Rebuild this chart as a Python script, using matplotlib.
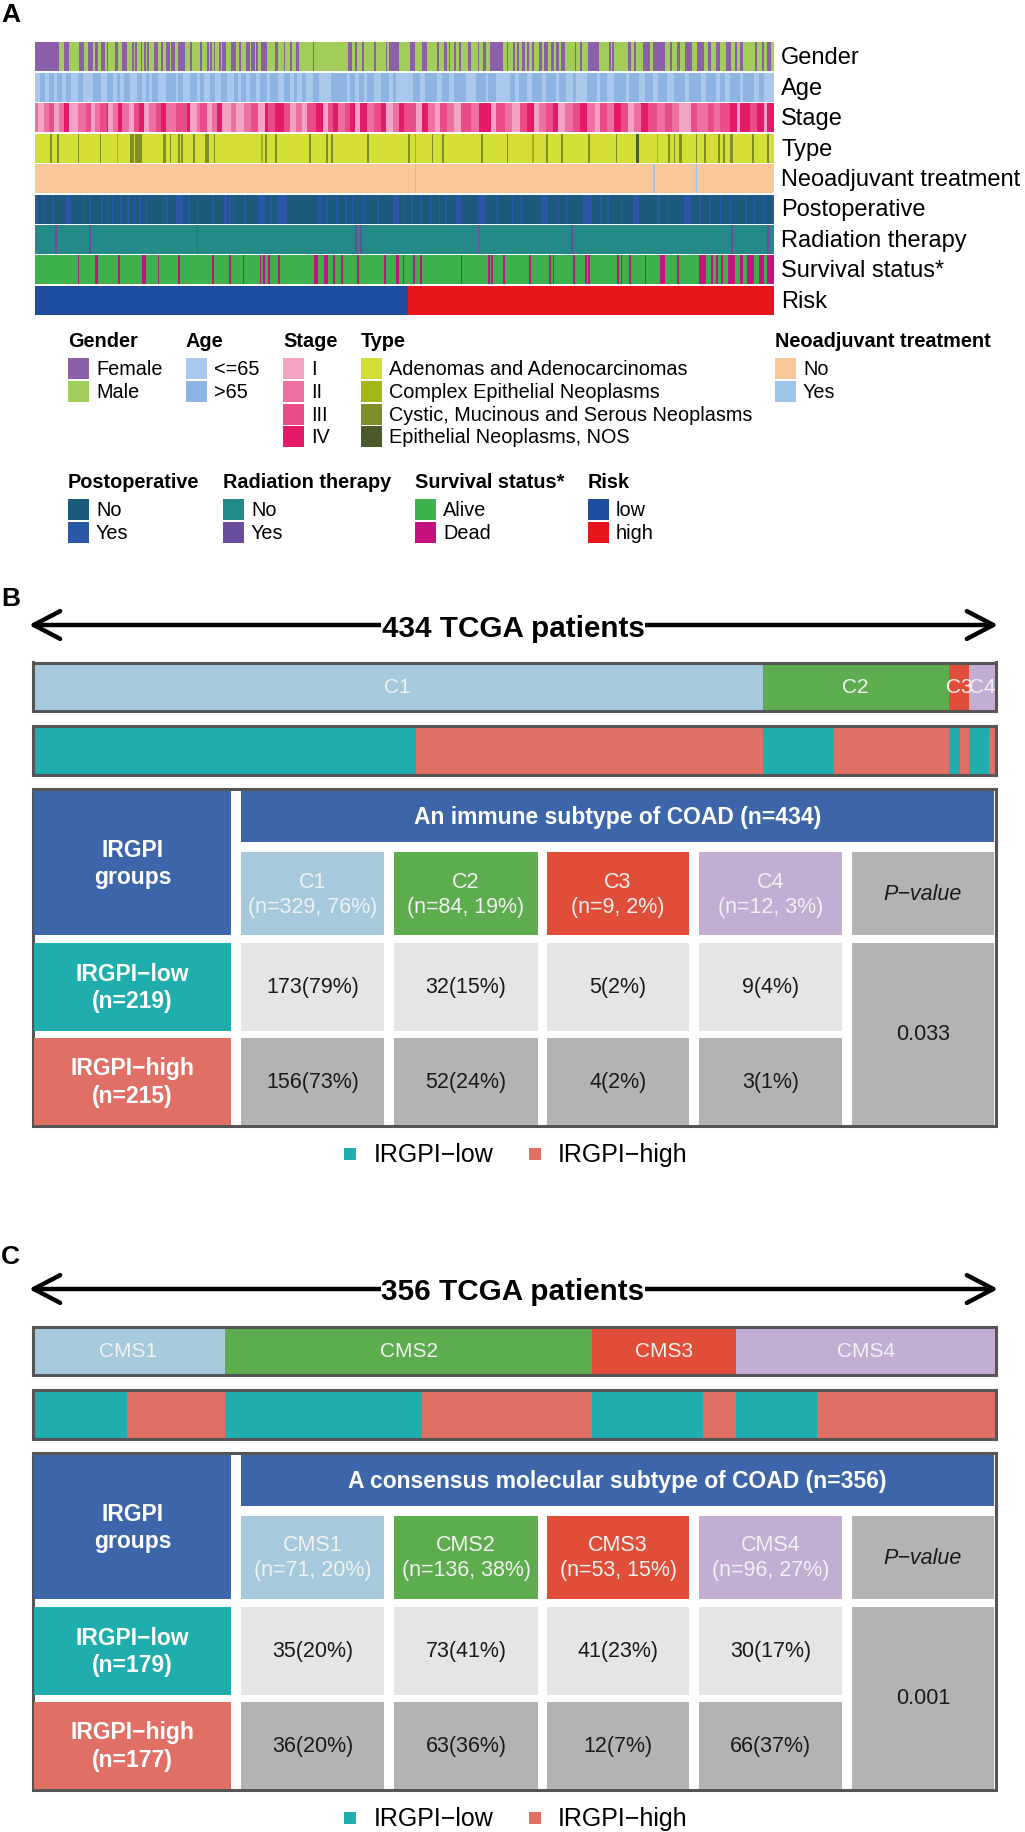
import numpy as np
import matplotlib
matplotlib.use('Agg')
import matplotlib.pyplot as plt
from matplotlib.patches import Rectangle
from matplotlib.colors import to_rgb

plt.rcParams['font.family'] = ['Liberation Sans', 'DejaVu Sans']

# ---------------- data: panel A (434 patients, ordered by risk score) ----------------
N_PAT = 434
n_risk_low, n_risk_high = 219, 215

gender_female = [(0, 14), (17, 3), (26, 3), (31, 3), (35, 2), (39, 2), (42, 1), (47, 2), (51, 3), (57, 1),
                 (59, 1), (62, 1), (64, 1), (66, 1), (70, 2), (74, 1), (77, 2), (80, 2), (84, 4), (91, 1),
                 (97, 1), (101, 1), (103, 1), (105, 1), (108, 1), (110, 2), (115, 3), (120, 1), (124, 2),
                 (127, 2), (130, 1), (133, 3), (141, 2), (146, 1), (150, 1), (153, 2), (163, 1), (184, 2),
                 (188, 1), (192, 1), (199, 1), (206, 1), (208, 6), (220, 3), (227, 3), (236, 1), (240, 2),
                 (243, 1), (246, 1), (249, 1), (254, 2), (260, 1), (263, 2), (267, 8), (277, 1), (281, 1),
                 (283, 1), (286, 2), (289, 1), (292, 1), (296, 2), (299, 2), (303, 2), (306, 2), (309, 2),
                 (317, 1), (320, 1), (325, 6), (337, 1), (339, 1), (348, 2), (352, 1), (357, 4), (363, 7),
                 (373, 1), (377, 2), (382, 4), (389, 4), (395, 2), (400, 2), (406, 3), (411, 1), (414, 2),
                 (423, 1), (427, 1), (430, 2)]

age_le65 = [(0, 3), (6, 2), (11, 2), (16, 2), (21, 4), (28, 6), (39, 3), (46, 2), (50, 2), (56, 4), (63, 2),
            (67, 2), (72, 5), (83, 1), (87, 4), (95, 2), (99, 4), (106, 3), (113, 4), (119, 2), (124, 2),
            (130, 2), (136, 2), (143, 3), (150, 2), (154, 3), (159, 4), (167, 7), (183, 2), (188, 2), (193, 2),
            (199, 4), (208, 2), (212, 8), (220, 2), (226, 3), (236, 3), (243, 3), (253, 6), (265, 1), (271, 8),
            (282, 2), (289, 3), (298, 2), (306, 2), (312, 4), (318, 6), (330, 2), (336, 4), (347, 2), (355, 3),
            (363, 3), (371, 4), (382, 2), (391, 3), (400, 2), (405, 3), (414, 2), (422, 3), (428, 6)]

# stage as consecutive runs (level, length); 0=I, 1=II, 2=III, 3=IV
stage_runs = [(1, 2), (0, 3), (1, 3), (2, 3), (0, 3), (1, 3), (3, 3), (0, 5), (1, 5), (2, 3), (0, 2), (1, 3),
              (2, 4), (3, 1), (0, 3), (1, 3), (3, 2), (1, 4), (0, 3), (2, 3), (3, 3), (0, 3), (1, 4), (2, 3),
              (3, 3), (1, 6), (2, 6), (3, 2), (0, 4), (1, 2), (2, 4), (0, 3), (1, 3), (3, 3), (0, 5), (1, 3),
              (0, 5), (1, 4), (2, 4), (0, 4), (3, 2), (2, 4), (3, 5), (2, 4), (0, 3), (1, 4), (0, 3), (2, 5),
              (3, 4), (0, 3), (2, 3), (3, 3), (1, 4), (2, 3), (3, 3), (0, 3), (3, 4), (1, 4), (2, 4), (3, 3),
              (0, 4), (1, 4), (3, 3), (2, 3),
              (2, 4), (0, 3), (3, 4), (1, 4), (0, 3), (2, 4), (1, 4), (0, 4), (2, 6), (1, 5), (3, 7), (0, 3),
              (2, 5), (1, 4), (0, 5), (2, 4), (3, 4), (0, 3), (1, 4), (2, 4), (3, 3), (0, 4), (1, 5), (2, 4),
              (3, 4), (1, 5), (0, 3), (2, 4), (1, 4), (3, 4), (2, 4), (0, 4), (1, 4), (3, 4), (2, 5), (1, 5),
              (2, 4), (1, 4), (0, 7), (2, 4), (1, 6), (2, 4), (1, 3), (2, 6), (3, 4), (0, 2), (3, 6), (2, 4),
              (3, 4), (0, 2), (3, 4)]

type_complex = [48, 133, 223, 292, 365]
type_cystic = [9, 13, 25, 38, 56, 57, 59, 60, 61, 62, 75, 76, 79, 84, 86, 93, 100, 101, 105, 135, 141, 161,
               171, 174, 195, 219, 233, 239, 262, 277, 300, 309, 325, 341, 372, 375, 378, 379, 388, 393, 401,
               404, 408, 409, 421, 430]
type_nos = [353, 354]

neo_yes = [223, 363, 388]

postop_yes = [(0, 2), (5, 1), (10, 1), (18, 3), (28, 1), (32, 1), (39, 1), (42, 1), (45, 1), (50, 1), (54, 2),
              (58, 1), (61, 1), (65, 1), (75, 1), (77, 1), (83, 4), (90, 1), (95, 1), (104, 1), (111, 2),
              (114, 1), (116, 1), (123, 1), (131, 4), (138, 1), (142, 6), (166, 2), (171, 1), (177, 1),
              (182, 1), (186, 1), (193, 1), (201, 1), (210, 4), (216, 1), (221, 1), (226, 1), (232, 1),
              (237, 1), (241, 1), (247, 3), (260, 5), (271, 1), (280, 1), (285, 1), (297, 4), (307, 1),
              (312, 1), (322, 5), (332, 1), (336, 1), (344, 1), (351, 4), (365, 2), (371, 1), (381, 4),
              (390, 1), (396, 1), (402, 1), (408, 1), (417, 1), (422, 1), (428, 1), (433, 1)]

radiation_yes = [12, 32, 95, 188, 191, 260, 315, 409, 430]

dead = [(25, 1), (35, 2), (49, 1), (63, 2), (72, 1), (84, 1), (104, 1), (114, 1), (122, 1), (132, 1),
        (134, 1), (137, 1), (143, 1), (164, 2), (170, 2), (175, 1), (180, 1), (189, 1), (205, 1), (212, 2),
        (216, 1), (222, 1), (226, 1), (250, 1), (266, 1), (268, 1), (275, 1), (290, 1), (302, 1), (304, 1),
        (316, 1), (323, 1), (325, 1), (342, 1), (344, 1), (349, 1), (358, 1), (367, 3), (377, 1), (390, 4),
        (397, 1), (400, 1), (403, 1), (407, 4), (414, 2), (418, 4), (425, 3), (430, 4)]

# ---------------- data: panels B and C ----------------
imm_types = ['C1', 'C2', 'C3', 'C4']
imm_n = [329, 84, 9, 12]
imm_pct = [76, 19, 2, 3]
imm_low = [173, 32, 5, 9]
imm_low_pct = [79, 15, 2, 4]
imm_high = [156, 52, 4, 3]
imm_high_pct = [73, 24, 2, 1]
imm_groups_n = [219, 215]
imm_p = '0.033'

cms_types = ['CMS1', 'CMS2', 'CMS3', 'CMS4']
cms_n = [71, 136, 53, 96]
cms_pct = [20, 38, 15, 27]
cms_low = [35, 73, 41, 30]
cms_low_pct = [20, 41, 23, 17]
cms_high = [36, 63, 12, 66]
cms_high_pct = [20, 36, 7, 37]
cms_groups_n = [179, 177]
cms_p = '0.001'

# ---------------- colours ----------------
sub_cols = ['#A6CADC', '#5DAD4E', '#E04E39', '#C4ADD3']
TEAL, SALMON = '#20ADAD', '#E07066'
HEAD_BLUE = '#3D66AA'
LGRAY, MGRAY = '#E5E5E5', '#B3B3B3'
EDGE = '#555555'

W, H = 1025, 1833
fig = plt.figure(figsize=(W / 100, H / 100), dpi=100)


def px_axes(x0, y0, x1, y1):
    return fig.add_axes([x0 / W, 1 - y1 / H, (x1 - x0) / W, (y1 - y0) / H])


ax0 = px_axes(0, 0, W, H)
ax0.set_xlim(0, W)
ax0.set_ylim(H, 0)
ax0.axis('off')


def from_runs(base, runs, code, arr=None):
    a = np.full(N_PAT, base) if arr is None else arr
    for s, l in runs:
        a[s:s + l] = code
    return a


def from_cols(base, cols, code, arr=None):
    a = np.full(N_PAT, base) if arr is None else arr
    a[np.array(cols)] = code
    return a


stage_idx = np.repeat([r[0] for r in stage_runs], [r[1] for r in stage_runs])[:N_PAT]
type_idx = from_cols(0, type_complex, 1)
type_idx = from_cols(0, type_cystic, 2, type_idx)
type_idx = from_cols(0, type_nos, 3, type_idx)

rows = [
    ('Gender', ['#A3CD5B', '#8B60A8'], from_runs(0, gender_female, 1)),
    ('Age', ['#8DB3E2', '#A9C8EC'], from_runs(0, age_le65, 1)),
    ('Stage', ['#F4A3C4', '#EE6FA2', '#EA4C89', '#E5196A'], stage_idx),
    ('Type', ['#D4DE37', '#A4B61A', '#7F8E28', '#4B5A2A'], type_idx),
    ('Neoadjuvant treatment', ['#F8C89A', '#9DC3E6'], from_cols(0, neo_yes, 1)),
    ('Postoperative', ['#1B5A7A', '#2B57A6'], from_runs(0, postop_yes, 1)),
    ('Radiation therapy', ['#238A87', '#6A4C9C'], from_cols(0, radiation_yes, 1)),
    ('Survival status*', ['#3DB14B', '#C4137F'], from_runs(0, dead, 1)),
    ('Risk', ['#1E4C9E', '#E8161C'], np.repeat([0, 1], [n_risk_low, n_risk_high])),
]

# ---------------- panel A ----------------
ax0.text(1, 15, 'A', fontsize=19, fontweight='bold', va='center')
hm_top, hm_bot = 43, 317
ax_hm = px_axes(35, hm_top, 774, hm_bot)
for i, (lab, cols, idx) in enumerate(rows):
    rgb = np.array([to_rgb(c) for c in cols])[idx][None, :, :]
    ax_hm.imshow(rgb, extent=(0, N_PAT, i + 0.965, i + 0.035), aspect='auto', interpolation='nearest')
    ax0.text(781, hm_top + (i + 0.5) * (hm_bot - hm_top) / 9, lab, fontsize=17, va='center')
ax_hm.set_xlim(0, N_PAT)
ax_hm.set_ylim(9, 0)
ax_hm.axis('off')

legend_groups = [
    ('Gender', 68, 359, ['Female', 'Male'], ['#8B60A8', '#A3CD5B']),
    ('Age', 186, 359, ['<=65', '>65'], ['#A9C8EC', '#8DB3E2']),
    ('Stage', 283, 359, ['I', 'II', 'III', 'IV'], rows[2][1]),
    ('Type', 361, 359, ['Adenomas and Adenocarcinomas', 'Complex Epithelial Neoplasms',
                        'Cystic, Mucinous and Serous Neoplasms', 'Epithelial Neoplasms, NOS'], rows[3][1]),
    ('Neoadjuvant treatment', 775, 359, ['No', 'Yes'], rows[4][1]),
    ('Postoperative', 68, 500, ['No', 'Yes'], rows[5][1]),
    ('Radiation therapy', 223, 500, ['No', 'Yes'], rows[6][1]),
    ('Survival status*', 415, 500, ['Alive', 'Dead'], rows[7][1]),
    ('Risk', 588, 500, ['low', 'high'], rows[8][1]),
]
for title, gx, gy, labs, cols in legend_groups:
    ax0.text(gx, gy - 17.5, title, fontsize=14.3, fontweight='bold', va='center')
    for k, (lab, c) in enumerate(zip(labs, cols)):
        y = gy + k * 22.8
        ax0.add_patch(Rectangle((gx, y), 21, 21, facecolor=c, edgecolor='none'))
        ax0.text(gx + 28, y + 10.5, lab, fontsize=14.3, va='center')


# ---------------- panels B and C ----------------
def stacked_bar(y0, y1, counts, colors, labels=None):
    ax = px_axes(32.5, y0, 995.5, y1)
    left = 0
    for k, (c, col) in enumerate(zip(counts, colors)):
        ax.barh(0, c, left=left, height=1, color=col, linewidth=0)
        if labels is not None:
            ax.text(left + c / 2, 0, labels[k], ha='center', va='center', color='#F2F2F2', fontsize=15)
        left += c
    ax.set_xlim(0, sum(counts))
    ax.set_ylim(-0.5, 0.5)
    ax.set_xticks([])
    ax.set_yticks([])
    for s in ax.spines.values():
        s.set_color(EDGE)
        s.set_linewidth(2.2)


def panel(t, letter, letter_y, n_total, title, types, n, pct, low, low_pct, high, high_pct, groups_n, pval):
    ax0.text(1, letter_y, letter, fontsize=19, fontweight='bold', va='center')
    ya = t - 162
    ax0.annotate('', xy=(29, ya), xytext=(998, ya),
                 arrowprops=dict(arrowstyle='<->,head_length=0.95,head_width=0.5', lw=3.2, color='black',
                                 mutation_scale=20, shrinkA=0, shrinkB=0))
    ax0.text(513, ya + 10.5, f'{n_total} TCGA patients', ha='center', va='baseline', fontsize=21.3,
             fontweight='bold', bbox=dict(facecolor='white', edgecolor='none', pad=0.3))

    stacked_bar(t - 124.5, t - 76.5, n, sub_cols, types)
    split_counts = [v for pair in zip(low, high) for v in pair]
    stacked_bar(t - 61.5, t - 12.5, split_counts, [TEAL, SALMON] * len(types))

    ax0.add_patch(Rectangle((32.5, t + 1.5), 963, 337, facecolor='white', edgecolor=EDGE, lw=2.2))
    col_x = [(34, 231), (241, 384), (394, 538), (547, 689), (699, 842), (852, 994)]
    r_title, r_sub, r_low, r_high = (t + 4, t + 55), (t + 65, t + 148), (t + 156, t + 244), (t + 251, t + 338)

    def cell(xr, yr, color, text='', tcolor='white', **kw):
        ax0.add_patch(Rectangle((xr[0], yr[0]), xr[1] - xr[0], yr[1] - yr[0], facecolor=color, edgecolor='none'))
        if text:
            ax0.text((xr[0] + xr[1]) / 2, (yr[0] + yr[1]) / 2, text, ha='center', va='center', color=tcolor,
                     linespacing=1.25, **kw)

    cell(col_x[0], (r_title[0], r_sub[1]), HEAD_BLUE, 'IRGPI\ngroups', fontsize=16.5, fontweight='bold')
    cell((col_x[1][0], col_x[5][1]), r_title, HEAD_BLUE, title, fontsize=16.5, fontweight='bold')
    for k in range(len(types)):
        cell(col_x[k + 1], r_sub, sub_cols[k], f'{types[k]}\n(n={n[k]}, {pct[k]}%)', tcolor='#F2F2F2',
             fontsize=15.5)
        cell(col_x[k + 1], r_low, LGRAY, f'{low[k]}({low_pct[k]}%)', tcolor='#1A1A1A', fontsize=15.5)
        cell(col_x[k + 1], r_high, MGRAY, f'{high[k]}({high_pct[k]}%)', tcolor='#1A1A1A', fontsize=15.5)
    cell(col_x[5], r_sub, MGRAY, 'P\u2212value', tcolor='#1A1A1A', fontsize=15.5, fontstyle='italic')
    cell(col_x[5], (r_low[0], r_high[1]), MGRAY, pval, tcolor='#1A1A1A', fontsize=15.5)
    cell(col_x[0], r_low, TEAL, f'IRGPI\u2212low\n(n={groups_n[0]})', fontsize=16.5, fontweight='bold')
    cell(col_x[0], r_high, SALMON, f'IRGPI\u2212high\n(n={groups_n[1]})', fontsize=16.5, fontweight='bold')

    yl = t + 367
    ax0.add_patch(Rectangle((344, yl - 6), 12, 12, facecolor=TEAL, edgecolor='none'))
    ax0.text(374, yl, 'IRGPI\u2212low', fontsize=18, va='center')
    ax0.add_patch(Rectangle((529, yl - 6), 12, 12, facecolor=SALMON, edgecolor='none'))
    ax0.text(558, yl, 'IRGPI\u2212high', fontsize=18, va='center')


panel(788, 'B', 599, N_PAT, f'An immune subtype of COAD (n={sum(imm_n)})', imm_types, imm_n, imm_pct,
      imm_low, imm_low_pct, imm_high, imm_high_pct, imm_groups_n, imm_p)
panel(1452, 'C', 1257, sum(cms_n), f'A consensus molecular subtype of COAD (n={sum(cms_n)})', cms_types, cms_n,
      cms_pct, cms_low, cms_low_pct, cms_high, cms_high_pct, cms_groups_n, cms_p)

fig.savefig('out.png', dpi=100, facecolor='white')
